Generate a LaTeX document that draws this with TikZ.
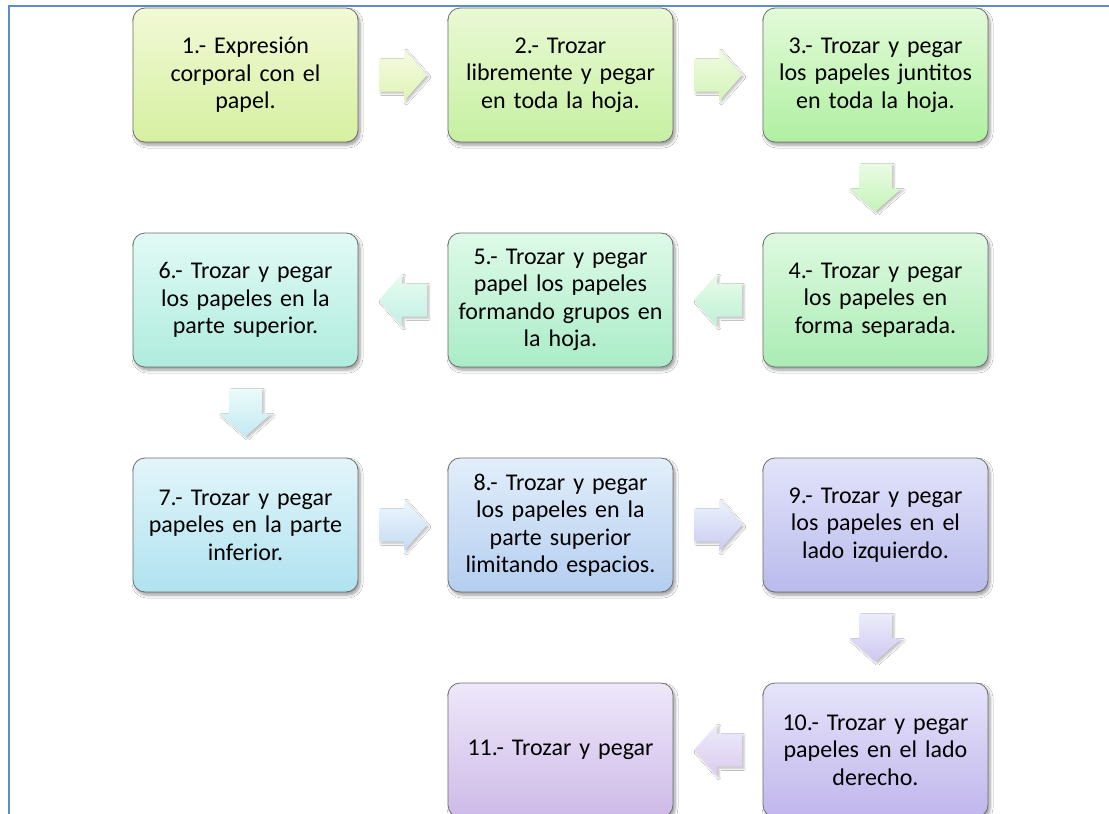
\documentclass[tikz,border=0pt]{standalone}
\usepackage{fontspec}
\setmainfont{Carlito}
\usetikzlibrary{calc,shadows.blur}
\definecolor{frameblue}{RGB}{91,139,208}
\definecolor{boxedge}{RGB}{110,110,110}
\definecolor{t1}{RGB}{242,249,214}\definecolor{b1}{RGB}{214,240,160}
\definecolor{t2}{RGB}{234,249,212}\definecolor{b2}{RGB}{198,240,162}
\definecolor{t3}{RGB}{226,250,216}\definecolor{b3}{RGB}{176,240,162}
\definecolor{t4}{RGB}{222,250,224}\definecolor{b4}{RGB}{170,236,180}
\definecolor{t5}{RGB}{222,250,232}\definecolor{b5}{RGB}{170,236,200}
\definecolor{t6}{RGB}{226,250,246}\definecolor{b6}{RGB}{174,236,222}
\definecolor{t7}{RGB}{226,245,250}\definecolor{b7}{RGB}{176,226,240}
\definecolor{t8}{RGB}{226,238,250}\definecolor{b8}{RGB}{180,206,240}
\definecolor{t9}{RGB}{226,228,250}\definecolor{b9}{RGB}{186,186,236}
\definecolor{t10}{RGB}{230,228,250}\definecolor{b10}{RGB}{192,182,236}
\definecolor{t11}{RGB}{238,232,250}\definecolor{b11}{RGB}{206,186,232}
\tikzset{
  stepbox/.style 2 args={draw=boxedge, line width=0.8pt, rounded corners=12pt,
    minimum width=225pt, minimum height=134pt, text width=212pt, align=center,
    top color=#1, bottom color=#2, font=\fontsize{24}{27.5}\selectfont,
    blur shadow={shadow xshift=2pt, shadow yshift=-3pt, shadow blur steps=6, shadow blur radius=3pt}},
  blockarrow/.style 2 args={draw=none, top color=#1!70!white, bottom color=#2!75!white,
    blur shadow={shadow xshift=2pt, shadow yshift=-2pt, shadow blur steps=5, shadow opacity=25}},
}
\newcommand{\rarrow}[4]{\path[blockarrow={#3}{#4}] ($(#1.east)!0.5!(#2.west)$) ++(-24,-16.5) -- ++(25,0) -- ++(0,-9.5) -- ++(23,26) -- ++(-23,26) -- ++(0,-9.5) -- ++(-25,0) -- cycle;}
\newcommand{\larrow}[4]{\path[blockarrow={#3}{#4}] ($(#1.west)!0.5!(#2.east)$) ++(24,-16.5) -- ++(-25,0) -- ++(0,-9.5) -- ++(-23,26) -- ++(23,26) -- ++(0,-9.5) -- ++(25,0) -- cycle;}
\newcommand{\darrow}[4]{\path[blockarrow={#3}{#4}] ($(#1.south)!0.5!(#2.north)$) ++(-16.5,-24) -- ++(33,0) -- ++(0,25) -- ++(9.5,0) -- ++(-26,23) -- ++(-26,-23) -- ++(9.5,0) -- cycle;}
\begin{document}
\begin{tikzpicture}[x=1pt,y=-1pt]
\useasboundingbox (0,0) rectangle (1109,814);
\clip (0,0) rectangle (1109,814);
\fill[white] (0,0) rectangle (1109,814);
\draw[frameblue, line width=2pt] (8.8,820) -- (8.8,6.3) -- (1115,6.3);
\node[stepbox={t1}{b1}] (s1) at (245.5,75) {1.- Expresión\\corporal con el\\papel.};
\node[stepbox={t2}{b2}] (s2) at (560.5,75) {2.- Trozar\\libremente y pegar\\en toda la hoja.};
\node[stepbox={t3}{b3}] (s3) at (875.5,75) {3.- Trozar y pegar\\los papeles juntitos\\en toda la hoja.};
\node[stepbox={t4}{b4}] (s4) at (875.5,300) {4.- Trozar y pegar\\los papeles en\\forma separada.};
\node[stepbox={t5}{b5}] (s5) at (560.5,300) {5.- Trozar y pegar\\papel los papeles\\formando grupos en\\la hoja.};
\node[stepbox={t6}{b6}] (s6) at (245.5,300) {6.- Trozar y pegar\\los papeles en la\\parte superior.};
\node[stepbox={t7}{b7}] (s7) at (245.5,525) {7.- Trozar y pegar\\papeles en la parte\\inferior.};
\node[stepbox={t8}{b8}] (s8) at (560.5,525) {8.- Trozar y pegar\\los papeles en la\\parte superior\\limitando espacios.};
\node[stepbox={t9}{b9}] (s9) at (875.5,525) {9.- Trozar y pegar\\los papeles en el\\lado izquierdo.};
\node[stepbox={t10}{b10}] (s10) at (875.5,750) {10.- Trozar y pegar\\papeles en el lado\\derecho.};
\node[stepbox={t11}{b11}] (s11) at (560.5,750) {11.- Trozar y pegar};
\rarrow{s1}{s2}{t1}{b1}
\rarrow{s2}{s3}{t2}{b2}
\darrow{s3}{s4}{t3}{b3}
\larrow{s4}{s5}{t4}{b5}
\larrow{s5}{s6}{t5}{b6}
\darrow{s6}{s7}{t6}{b7}
\rarrow{s7}{s8}{t7}{b8}
\rarrow{s8}{s9}{t8}{b9}
\darrow{s9}{s10}{t9}{b10}
\larrow{s10}{s11}{t10}{b11}
\end{tikzpicture}
\end{document}
